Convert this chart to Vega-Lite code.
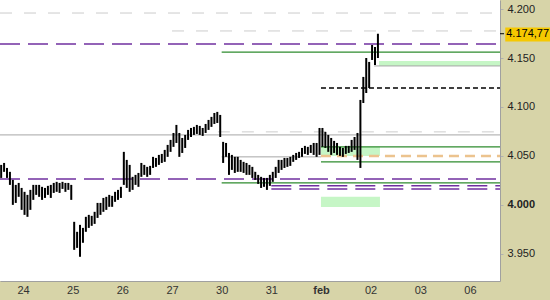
{
 "$schema": "https://vega.github.io/schema/vega-lite/v6.json",
 "width": 500,
 "height": 281,
 "autosize": {"type": "none"},
 "padding": {"left": 0, "top": 0, "right": 50, "bottom": 19},
 "background": "#d7d4a8",
 "config": {"view": {"fill": "white", "stroke": null}, "font": "Liberation Sans"},
 "datasets": {
  "bars": [
   {"t":-8,"h":4.0409,"l":4.0276},{"t":-7,"h":4.0429,"l":4.0338},{"t":-6,"h":4.0378,"l":4.0276},{"t":-5,"h":4.0338,"l":4.0205},
   {"t":-4,"h":4.0256,"l":4.0001},{"t":-3,"h":4.0205,"l":4.0021},{"t":-2,"h":4.0225,"l":4.0083},{"t":-1,"h":4.0174,"l":3.9950},
   {"t":0,"h":4.0134,"l":3.9899},{"t":1,"h":4.0103,"l":3.9879},{"t":2,"h":4.0154,"l":3.9950},{"t":3,"h":4.0205,"l":4.0052},
   {"t":4,"h":4.0205,"l":4.0103},{"t":5,"h":4.0205,"l":4.0083},{"t":6,"h":4.0185,"l":4.0052},{"t":7,"h":4.0174,"l":4.0072},
   {"t":8,"h":4.0195,"l":4.0103},{"t":9,"h":4.0205,"l":4.0072},{"t":10,"h":4.0225,"l":4.0123},{"t":11,"h":4.0236,"l":4.0134},
   {"t":12,"h":4.0225,"l":4.0123},{"t":13,"h":4.0236,"l":4.0164},{"t":14,"h":4.0225,"l":4.0134},{"t":15,"h":4.0225,"l":4.0154},
   {"t":16,"h":4.0205,"l":4.0052},
   {"t":17,"h":3.9828,"l":3.9542},{"t":18,"h":3.9726,"l":3.9562},{"t":19,"h":3.9797,"l":3.9471},{"t":20,"h":3.9766,"l":3.9614},
   {"t":21,"h":3.9879,"l":3.9726},{"t":22,"h":3.9899,"l":3.9766},{"t":23,"h":3.9889,"l":3.9787},{"t":24,"h":3.9930,"l":3.9807},
   {"t":25,"h":4.0021,"l":3.9868},{"t":26,"h":4.0021,"l":3.9899},{"t":27,"h":4.0072,"l":3.9930},{"t":28,"h":4.0083,"l":3.9950},
   {"t":29,"h":4.0103,"l":3.9981},{"t":30,"h":4.0093,"l":3.9981},{"t":31,"h":4.0134,"l":4.0032},{"t":32,"h":4.0154,"l":4.0052},
   {"t":33,"h":4.0185,"l":4.0072},
   {"t":34,"h":4.0542,"l":4.0205},{"t":35,"h":4.0460,"l":4.0174},{"t":36,"h":4.0409,"l":4.0134},{"t":37,"h":4.0287,"l":4.0154},
   {"t":38,"h":4.0307,"l":4.0205},{"t":39,"h":4.0327,"l":4.0185},{"t":40,"h":4.0429,"l":4.0287},{"t":41,"h":4.0409,"l":4.0307},
   {"t":42,"h":4.0389,"l":4.0287},{"t":43,"h":4.0399,"l":4.0307},{"t":44,"h":4.0491,"l":4.0378},{"t":45,"h":4.0480,"l":4.0389},
   {"t":46,"h":4.0511,"l":4.0409},{"t":47,"h":4.0521,"l":4.0429},{"t":48,"h":4.0562,"l":4.0440},{"t":49,"h":4.0613,"l":4.0491},
   {"t":50,"h":4.0664,"l":4.0542},
   {"t":51,"h":4.0735,"l":4.0593},{"t":52,"h":4.0817,"l":4.0633},{"t":53,"h":4.0735,"l":4.0491},{"t":54,"h":4.0684,"l":4.0531},
   {"t":55,"h":4.0715,"l":4.0582},{"t":56,"h":4.0766,"l":4.0664},{"t":57,"h":4.0786,"l":4.0694},{"t":58,"h":4.0797,"l":4.0715},
   {"t":59,"h":4.0817,"l":4.0725},{"t":60,"h":4.0807,"l":4.0715},{"t":61,"h":4.0786,"l":4.0705},{"t":62,"h":4.0827,"l":4.0735},
   {"t":63,"h":4.0868,"l":4.0766},{"t":64,"h":4.0899,"l":4.0797},{"t":65,"h":4.0939,"l":4.0827},{"t":66,"h":4.0950,"l":4.0837},
   {"t":67,"h":4.0919,"l":4.0694},
   {"t":68,"h":4.0644,"l":4.0429},{"t":69,"h":4.0633,"l":4.0491},{"t":70,"h":4.0531,"l":4.0307},{"t":71,"h":4.0511,"l":4.0358},
   {"t":72,"h":4.0491,"l":4.0327},{"t":73,"h":4.0491,"l":4.0338},{"t":74,"h":4.0460,"l":4.0338},{"t":75,"h":4.0440,"l":4.0327},
   {"t":76,"h":4.0429,"l":4.0307},{"t":77,"h":4.0409,"l":4.0307},{"t":78,"h":4.0389,"l":4.0276},{"t":79,"h":4.0338,"l":4.0256},
   {"t":80,"h":4.0307,"l":4.0215},{"t":81,"h":4.0287,"l":4.0174},{"t":82,"h":4.0276,"l":4.0185},{"t":83,"h":4.0276,"l":4.0154},
   {"t":84,"h":4.0307,"l":4.0195},
   {"t":85,"h":4.0338,"l":4.0236},{"t":86,"h":4.0389,"l":4.0276},{"t":87,"h":4.0460,"l":4.0327},{"t":88,"h":4.0460,"l":4.0358},
   {"t":89,"h":4.0480,"l":4.0378},{"t":90,"h":4.0480,"l":4.0389},{"t":91,"h":4.0491,"l":4.0399},{"t":92,"h":4.0511,"l":4.0440},
   {"t":93,"h":4.0531,"l":4.0460},{"t":94,"h":4.0542,"l":4.0480},{"t":95,"h":4.0582,"l":4.0491},{"t":96,"h":4.0603,"l":4.0521},
   {"t":97,"h":4.0593,"l":4.0511},{"t":98,"h":4.0613,"l":4.0531},{"t":99,"h":4.0633,"l":4.0511},{"t":100,"h":4.0633,"l":4.0491},
   {"t":101,"h":4.0786,"l":4.0511},
   {"t":102,"h":4.0786,"l":4.0593},{"t":103,"h":4.0746,"l":4.0582},{"t":104,"h":4.0715,"l":4.0542},{"t":105,"h":4.0684,"l":4.0511},
   {"t":106,"h":4.0654,"l":4.0531},{"t":107,"h":4.0633,"l":4.0511},{"t":108,"h":4.0593,"l":4.0501},{"t":109,"h":4.0582,"l":4.0491},
   {"t":110,"h":4.0603,"l":4.0521},{"t":111,"h":4.0603,"l":4.0531},{"t":112,"h":4.0664,"l":4.0542},{"t":113,"h":4.0694,"l":4.0562},
   {"t":114,"h":4.0735,"l":4.0460},{"t":115,"h":4.1072,"l":4.0378},{"t":116,"h":4.1307,"l":4.1041},{"t":117,"h":4.1500,"l":4.1143},
   {"t":118,"h":4.1460,"l":4.1194},
   {"t":119,"h":4.1633,"l":4.1480},{"t":120,"h":4.1613,"l":4.1429},{"t":121,"h":4.17477,"l":4.1500}
  ],
  "boxes": [
   {"t":101.5,"t2":121.7,"v":4.0500,"v2":4.0593},
   {"t":101.5,"t2":121.7,"v":3.9980,"v2":4.0083},
   {"t":121.4,"t2":162.8,"v":4.1419,"v2":4.1470}
  ],
  "grayDash": [
   {"t":-8.4,"t2":162.8,"v":4.1959},
   {"t":50.5,"t2":162.8,"v":4.1776},
   {"t":66.2,"t2":162.8,"v":4.0746}
  ],
  "graySolid": [
   {"t":-8.4,"t2":162.8,"v":4.0715},
   {"t":67.5,"t2":101.5,"v":4.0491},
   {"t":119.7,"t2":162.8,"v":4.1419}
  ],
  "purple": [
   {"t":-8.4,"t2":162.8,"v":4.1643},
   {"t":-8.4,"t2":162.8,"v":4.0266},
   {"t":84.5,"t2":162.8,"v":4.0195},
   {"t":84.5,"t2":162.8,"v":4.0164}
  ],
  "green": [
   {"t":67.5,"t2":162.8,"v":4.1561},
   {"t":67.5,"t2":162.8,"v":4.0225},
   {"t":101.5,"t2":162.8,"v":4.0593},
   {"t":101.5,"t2":162.8,"v":4.0440}
  ],
  "black": [{"t":101.5,"t2":162.8,"v":4.1194}],
  "orange": [{"t":101.5,"t2":162.8,"v":4.0501}],
  "last": [{"t":164.6,"t2":180,"v":4.1812,"v2":4.1669,"p":4.17477,"txt":"4.174,77","k":162.8,"k2":164.2}]
 },
 "layer": [
  {
   "data": {"name": "boxes"},
   "mark": {"type": "rect", "color": "#c6f6c6"},
   "encoding": {
    "x": {"field": "t", "type": "quantitative", "scale": {"domain": [-8.4, 162.8], "nice": false, "zero": false},
     "axis": {"title": null, "orient": "bottom", "values": [-0.5, 16.5, 33.5, 50.5, 67.5, 84.5, 101.5, 118.5, 135.5, 152.5],
      "labelExpr": "datum.value < 0 ? '24' : datum.value < 20 ? '25' : datum.value < 40 ? '26' : datum.value < 60 ? '27' : datum.value < 70 ? '30' : datum.value < 90 ? '31' : datum.value < 110 ? 'feb' : datum.value < 120 ? '02' : datum.value < 140 ? '03' : '06'",
      "labelFontWeight": {"condition": {"test": "datum.value == 101.5", "value": "bold"}, "value": "normal"},
      "ticks": false, "tickSize": 0, "labelPadding": 3, "grid": false, "domainColor": "#a0a0a0", "labelColor": "#333333",
      "labelFontSize": 11, "labelOverlap": false, "labelFlush": false, "labelBound": false}},
    "x2": {"field": "t2"},
    "y": {"field": "v", "type": "quantitative", "scale": {"domain": [3.9224, 4.2092], "nice": false, "zero": false},
     "axis": {"title": null, "orient": "right", "values": [3.95, 4.0, 4.05, 4.1, 4.15, 4.2], "format": ".3f",
      "labelFontWeight": {"condition": {"test": "datum.value == 4", "value": "bold"}, "value": "normal"},
      "tickSize": 3, "tickColor": "#b0b0b0", "labelPadding": 4, "grid": false, "domainColor": "#a0a0a0", "labelColor": "#222222",
      "labelFontSize": 11, "labelOverlap": false, "labelFlush": false, "labelBound": false}},
    "y2": {"field": "v2"}
   }
  },
  {
   "data": {"name": "grayDash"},
   "mark": {"type": "rule", "color": "#cccccc", "strokeWidth": 1, "strokeDash": [12, 12]},
   "encoding": {"x": {"field": "t", "type": "quantitative"}, "x2": {"field": "t2"}, "y": {"field": "v", "type": "quantitative"}}
  },
  {
   "data": {"name": "graySolid"},
   "mark": {"type": "rule", "color": "#a6a6a6", "strokeWidth": 1},
   "encoding": {"x": {"field": "t", "type": "quantitative"}, "x2": {"field": "t2"}, "y": {"field": "v", "type": "quantitative"}}
  },
  {
   "data": {"name": "purple"},
   "mark": {"type": "rule", "color": "#7030a0", "strokeWidth": 1.5, "strokeDash": [20, 8]},
   "encoding": {"x": {"field": "t", "type": "quantitative"}, "x2": {"field": "t2"}, "y": {"field": "v", "type": "quantitative"}}
  },
  {
   "data": {"name": "green"},
   "mark": {"type": "rule", "color": "#2e8b2e", "strokeWidth": 1.2},
   "encoding": {"x": {"field": "t", "type": "quantitative"}, "x2": {"field": "t2"}, "y": {"field": "v", "type": "quantitative"}}
  },
  {
   "data": {"name": "black"},
   "mark": {"type": "rule", "color": "#000000", "strokeWidth": 1.3, "strokeDash": [5, 3]},
   "encoding": {"x": {"field": "t", "type": "quantitative"}, "x2": {"field": "t2"}, "y": {"field": "v", "type": "quantitative"}}
  },
  {
   "data": {"name": "orange"},
   "mark": {"type": "rule", "color": "#ecc38e", "strokeWidth": 2.5, "strokeDash": [10, 6]},
   "encoding": {"x": {"field": "t", "type": "quantitative"}, "x2": {"field": "t2"}, "y": {"field": "v", "type": "quantitative"}}
  },
  {
   "data": {"name": "bars"},
   "mark": {"type": "rule", "color": "#000000", "strokeWidth": 2},
   "encoding": {"x": {"field": "t", "type": "quantitative"}, "y": {"field": "h", "type": "quantitative"}, "y2": {"field": "l"}}
  },
  {
   "data": {"name": "last"},
   "mark": {"type": "rect", "color": "#f6c800", "clip": false},
   "encoding": {"x": {"field": "t", "type": "quantitative"}, "x2": {"field": "t2"}, "y": {"field": "v", "type": "quantitative"}, "y2": {"field": "v2"}}
  },
  {
   "data": {"name": "last"},
   "mark": {"type": "rule", "color": "#000000", "strokeWidth": 1, "clip": false},
   "encoding": {"x": {"field": "k", "type": "quantitative"}, "x2": {"field": "k2"}, "y": {"field": "p", "type": "quantitative"}}
  },
  {
   "data": {"name": "last"},
   "mark": {"type": "text", "align": "left", "baseline": "middle", "fontSize": 11, "color": "#000000", "clip": false, "dx": 1},
   "encoding": {"x": {"field": "t", "type": "quantitative"}, "y": {"field": "p", "type": "quantitative"}, "text": {"field": "txt"}}
  }
 ]
}
